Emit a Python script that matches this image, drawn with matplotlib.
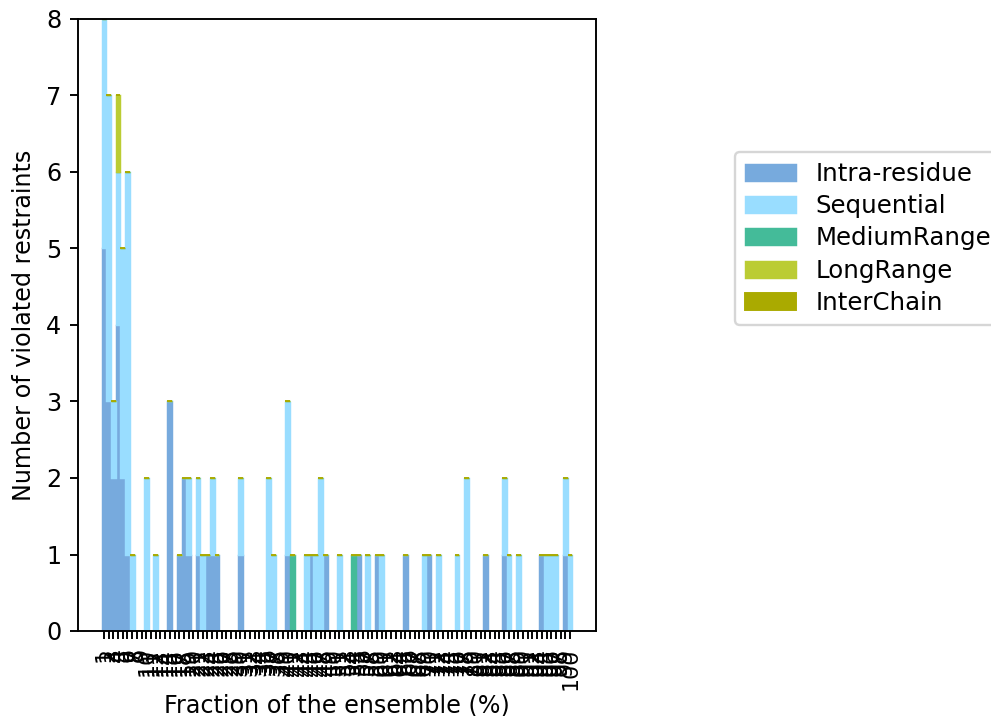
import numpy as np
import matplotlib
matplotlib.use('Agg')
import matplotlib.pyplot as plt

# fraction of the ensemble (%) categories
fractions = [str(i) for i in range(1, 101)]

# number of violated restraints per class, one entry per fraction (1..100)
intra = [5, 3, 2, 4, 2, 1, 0, 0, 0, 0,
         0, 0, 0, 0, 3, 0, 1, 2, 1, 0,
         1, 0, 1, 1, 1, 0, 0, 0, 0, 1,
         0, 0, 0, 0, 0, 0, 0, 0, 0, 1,
         0, 0, 0, 0, 1, 0, 0, 1, 0, 0,
         0, 0, 0, 0, 1, 0, 0, 0, 1, 0,
         0, 0, 0, 0, 1, 0, 0, 0, 0, 1,
         0, 0, 0, 0, 0, 0, 0, 0, 0, 0,
         0, 1, 0, 0, 0, 1, 0, 0, 0, 0,
         0, 0, 0, 1, 0, 0, 0, 0, 1, 0]
sequential = [3, 4, 1, 2, 3, 5, 1, 0, 0, 2,
              0, 1, 0, 0, 0, 0, 0, 0, 1, 0,
              1, 1, 0, 1, 0, 0, 0, 0, 0, 1,
              0, 0, 0, 0, 0, 2, 1, 0, 0, 2,
              0, 0, 0, 1, 0, 1, 2, 0, 0, 0,
              1, 0, 0, 0, 0, 0, 1, 0, 0, 1,
              0, 0, 0, 0, 0, 0, 0, 0, 1, 0,
              0, 1, 0, 0, 0, 1, 0, 2, 0, 0,
              0, 0, 0, 0, 0, 1, 1, 0, 1, 0,
              0, 0, 0, 0, 1, 1, 1, 0, 1, 1]
medium = [0] * 100
medium[40] = 1
medium[53] = 1
long_range = [0] * 100
long_range[3] = 1
inter_chain = [0] * 100

series = [('Intra-residue', intra, '#77AADD'),
          ('Sequential', sequential, '#99DDFF'),
          ('MediumRange', medium, '#44BB99'),
          ('LongRange', long_range, '#BBCC33'),
          ('InterChain', inter_chain, '#AAAA00')]

dpi = 172
fig = plt.figure(figsize=(992 / dpi, 716 / dpi), dpi=dpi)
ax = fig.add_axes([78 / 992, 1 - 631 / 716, (596 - 78) / 992, (631 - 19) / 716])

x = np.arange(len(fractions))
bottom = np.zeros(len(fractions))
for name, vals, col in series:
    vals = np.array(vals, dtype=float)
    lw = 0.8 if name == 'InterChain' else 0.6
    ax.bar(x, vals, width=1.0, bottom=bottom, color=col, edgecolor=col,
           linewidth=lw, label=name)
    bottom += vals

ax.set_xticks(x)
ax.set_xticklabels(fractions, rotation=90, fontsize=9.2)
ax.set_ylim(0, 8)
ax.set_xlabel('Fraction of the ensemble (%)', labelpad=1.5)
ax.set_ylabel('Number of violated restraints')
fig.legend(loc='upper left', bbox_to_anchor=(735 / 992, 1 - 152 / 716),
           bbox_transform=fig.transFigure, borderaxespad=0,
           labelspacing=0.34, handlelength=2.1, fontsize=10.2)

fig.savefig('out.png', dpi=dpi)
